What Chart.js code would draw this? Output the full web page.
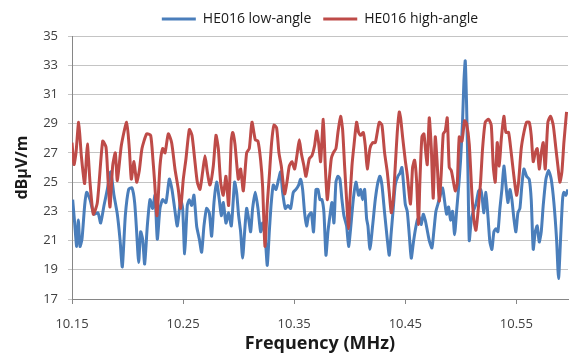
<!DOCTYPE html>
<html>
<head>
<meta charset="utf-8">
<title>HE016 field strength</title>
<script src="https://cdn.jsdelivr.net/npm/chart.js@4.4.1/dist/chart.umd.min.js"></script>
<style>
    html, body { margin: 0; padding: 0; background: #ffffff; }
    #grafica { display: block; }
</style>
</head>
<body>
<canvas id="grafica" width="573" height="358"></canvas>
<script>
const xTicks = [10.15, 10.25, 10.35, 10.45, 10.55];

// HE016 low-angle (frequency in MHz, level in dBuV/m)
const lowFreq = [
    10.1506, 10.1524, 10.1542, 10.1557, 10.1572, 10.159, 10.1614, 10.1632, 10.1662, 10.1698,
    10.1734, 10.1758, 10.1788, 10.1818, 10.1848, 10.1878, 10.1908, 10.1932, 10.1953, 10.198,
    10.201, 10.204, 10.2064, 10.2082, 10.21, 10.2118, 10.2136, 10.2154, 10.2178, 10.2202,
    10.2226, 10.2247, 10.2268, 10.2292, 10.2316, 10.2346, 10.2376, 10.24, 10.2424, 10.2448,
    10.2478, 10.2496, 10.2514, 10.2538, 10.2556, 10.2577, 10.2598, 10.2622, 10.2646, 10.2667,
    10.2688, 10.2712, 10.2736, 10.2757, 10.2778, 10.2802, 10.2826, 10.2844, 10.2862, 10.2886,
    10.291, 10.2934, 10.2952, 10.2964, 10.2982, 10.3, 10.3018, 10.3036, 10.3054, 10.3072,
    10.309, 10.3108, 10.3126, 10.315, 10.3174, 10.3198, 10.3216, 10.324, 10.3258, 10.3276,
    10.3294, 10.3312, 10.3336, 10.336, 10.3378, 10.3396, 10.342, 10.3444, 10.3468, 10.3492,
    10.3516, 10.354, 10.3558, 10.3576, 10.3594, 10.3612, 10.363, 10.3654, 10.3674, 10.3696,
    10.3714, 10.3732, 10.375, 10.3768, 10.3786, 10.3804, 10.3822, 10.384, 10.3858, 10.3876,
    10.3894, 10.3912, 10.393, 10.3948, 10.3972, 10.399, 10.4008, 10.4032, 10.4056, 10.408,
    10.4098, 10.4116, 10.4134, 10.4152, 10.4164, 10.4182, 10.4206, 10.423, 10.4254, 10.4272,
    10.429, 10.4314, 10.4338, 10.4356, 10.4374, 10.4392, 10.441, 10.4434, 10.4452, 10.447,
    10.4482, 10.45, 10.4518, 10.4536, 10.4554, 10.4572, 10.459, 10.4608, 10.4626, 10.4644,
    10.4662, 10.468, 10.4698, 10.4716, 10.474, 10.4758, 10.4776, 10.4794, 10.4812, 10.4836,
    10.4854, 10.4872, 10.489, 10.4908, 10.4926, 10.4944, 10.4962, 10.498, 10.4998, 10.5016,
    10.5028, 10.504, 10.5052, 10.5064, 10.5076, 10.5094, 10.5112, 10.5136, 10.516, 10.5178,
    10.519, 10.5208, 10.5226, 10.5244, 10.5262, 10.528, 10.5298, 10.5316, 10.5334, 10.5352,
    10.537, 10.5388, 10.5406, 10.5424, 10.5442, 10.546, 10.5478, 10.5496, 10.5514, 10.5532,
    10.555, 10.5568, 10.5592, 10.5616, 10.5634, 10.5652, 10.567, 10.5688, 10.5706, 10.5724,
    10.5742, 10.5766, 10.579, 10.5814, 10.5838, 10.5862, 10.588, 10.5898, 10.5916, 10.5928,
    10.5946, 10.5964
];
const lowDb = [
    23.8, 22.2, 20.6, 22.4, 20.6, 21.1, 23.4, 24.3, 23.8, 22.8,
    22.9, 22.2, 23.4, 24.5, 25.7, 24.1, 22.8, 21.1, 19.2, 22.7,
    24.5, 24.6, 23.6, 21.6, 19.5, 21.6, 21.1, 19.4, 22.0, 23.8,
    23.2, 24.1, 21.1, 23.2, 23.8, 23.6, 25.2, 24.5, 23.2, 22.0,
    23.8, 23.2, 20.1, 23.4, 23.8, 23.4, 24.1, 22.0, 21.1, 20.2,
    22.0, 23.2, 22.9, 21.3, 23.6, 25.0, 23.8, 22.7, 23.6, 22.2,
    22.9, 22.0, 23.8, 25.0, 24.3, 22.7, 21.6, 19.8, 21.6, 23.2,
    22.5, 21.6, 23.2, 24.3, 23.2, 21.6, 22.2, 21.1, 19.3, 21.6,
    23.6, 24.8, 24.5, 25.2, 25.7, 24.3, 23.2, 23.4, 23.2, 24.3,
    24.5, 24.8, 25.2, 24.5, 22.9, 22.0, 22.7, 22.9, 21.6, 24.5,
    24.5, 23.8, 23.8, 22.9, 20.0, 21.6, 22.7, 23.6, 22.2, 25.0,
    25.4, 25.2, 23.8, 22.7, 22.0, 20.6, 21.8, 23.8, 25.0, 24.1,
    24.5, 23.8, 24.5, 22.5, 22.0, 20.4, 22.0, 23.8, 25.0, 25.4,
    24.8, 22.9, 21.1, 20.0, 21.6, 23.2, 24.8, 25.4, 25.6, 26.0,
    25.1, 23.5, 23.0, 21.4, 19.8, 20.8, 21.7, 22.4, 22.6, 22.1,
    22.8, 22.4, 21.7, 21.0, 20.5, 21.7, 23.0, 23.5, 24.0, 24.6,
    23.7, 22.8, 23.3, 22.4, 23.0, 21.4, 23.0, 24.6, 26.5, 29.2,
    31.9, 33.3, 30.3, 25.8, 21.0, 22.4, 23.0, 23.5, 24.4, 24.5,
    24.1, 22.9, 24.3, 22.7, 20.9, 20.4, 21.6, 21.8, 21.6, 23.2,
    24.5, 26.1, 24.8, 23.6, 24.5, 23.8, 22.5, 21.6, 22.9, 23.2,
    24.8, 25.9, 25.4, 25.2, 23.8, 20.4, 21.6, 22.0, 20.9, 21.6,
    23.4, 25.2, 25.8, 25.2, 23.6, 21.1, 18.4, 21.1, 23.8, 24.3,
    24.1, 24.5
];

// HE016 high-angle
const highFreq = [
    10.15, 10.1518, 10.1536, 10.156, 10.1584, 10.1614, 10.1638, 10.1662, 10.1692, 10.1728,
    10.1776, 10.1806, 10.1824, 10.1842, 10.1866, 10.189, 10.1908, 10.1944, 10.1992, 10.2016,
    10.2034, 10.2058, 10.2082, 10.2106, 10.213, 10.2172, 10.2208, 10.2229, 10.2243, 10.2265,
    10.2292, 10.2316, 10.2337, 10.2367, 10.2397, 10.2427, 10.2457, 10.2478, 10.2502, 10.2526,
    10.2556, 10.258, 10.2604, 10.2628, 10.2652, 10.2676, 10.2697, 10.2718, 10.2742, 10.2772,
    10.2796, 10.2817, 10.2838, 10.2862, 10.2886, 10.291, 10.2934, 10.2947, 10.2967, 10.2997,
    10.3018, 10.3042, 10.3072, 10.3096, 10.312, 10.315, 10.3174, 10.3198, 10.3216, 10.3237,
    10.3258, 10.3276, 10.3297, 10.3318, 10.3342, 10.3363, 10.3384, 10.3414, 10.3435, 10.3456,
    10.348, 10.3504, 10.3528, 10.3546, 10.3564, 10.3588, 10.3606, 10.3636, 10.366, 10.3684,
    10.3702, 10.372, 10.3738, 10.3762, 10.378, 10.3798, 10.3816, 10.3834, 10.3852, 10.3876,
    10.3894, 10.3918, 10.3936, 10.3954, 10.3972, 10.3989, 10.4002, 10.402, 10.4038, 10.4062,
    10.408, 10.4098, 10.4122, 10.414, 10.4158, 10.4182, 10.4206, 10.423, 10.4248, 10.4266,
    10.429, 10.4314, 10.4338, 10.4356, 10.4374, 10.4392, 10.441, 10.4428, 10.4446, 10.4458,
    10.4476, 10.45, 10.4518, 10.4547, 10.4566, 10.4584, 10.4602, 10.4619, 10.4632, 10.465,
    10.4668, 10.4686, 10.4698, 10.4716, 10.4734, 10.4752, 10.477, 10.4788, 10.4806, 10.4824,
    10.4842, 10.486, 10.4878, 10.4896, 10.4914, 10.4932, 10.495, 10.4968, 10.4986, 10.501,
    10.5034, 10.5052, 10.5076, 10.51, 10.5118, 10.5136, 10.5154, 10.5178, 10.5196, 10.522,
    10.525, 10.5274, 10.5292, 10.531, 10.5328, 10.5346, 10.5364, 10.5388, 10.5406, 10.543,
    10.5454, 10.5478, 10.5502, 10.552, 10.5544, 10.5568, 10.5592, 10.5616, 10.5634, 10.5652,
    10.567, 10.5688, 10.5706, 10.5724, 10.5742, 10.576, 10.5784, 10.5808, 10.5832, 10.5856,
    10.5874, 10.5892, 10.591, 10.5928, 10.5952
];
const highDb = [
    27.7, 26.2, 27.0, 29.1, 26.8, 24.9, 27.6, 25.0, 22.8, 23.6,
    27.8, 27.4, 25.2, 23.3, 26.1, 27.0, 25.1, 27.5, 29.1, 27.3,
    25.2, 26.4, 25.0, 25.8, 27.3, 28.3, 28.2, 26.5, 25.1, 22.7,
    26.1, 27.3, 27.0, 28.3, 27.7, 25.9, 24.5, 23.2, 25.2, 26.6,
    28.6, 28.2, 26.6, 25.0, 24.5, 25.7, 26.8, 25.7, 24.8, 26.1,
    28.2, 27.3, 25.0, 24.1, 25.4, 23.4, 27.9, 28.4, 27.6, 25.2,
    25.9, 24.4, 27.0, 27.3, 29.1, 27.9, 27.8, 26.5, 24.7, 20.6,
    23.5, 25.4, 27.7, 28.9, 28.7, 27.0, 26.1, 24.2, 25.0, 26.1,
    26.4, 25.9, 27.0, 27.9, 27.0, 26.1, 25.4, 26.6, 26.8, 27.5,
    28.5, 27.7, 26.4, 29.3, 26.1, 23.8, 25.2, 26.6, 27.0, 27.3,
    28.4, 29.5, 28.6, 26.1, 23.8, 21.8, 23.8, 26.1, 27.5, 29.1,
    28.4, 28.2, 28.4, 27.5, 25.9, 27.3, 27.7, 27.7, 28.4, 29.1,
    28.9, 27.0, 25.7, 24.3, 22.9, 23.8, 26.1, 28.4, 29.8, 29.4,
    28.1, 26.5, 25.5, 23.5, 26.0, 26.5, 25.1, 22.1, 25.1, 28.1,
    28.3, 26.9, 26.2, 29.4, 27.4, 23.9, 28.1, 26.2, 23.7, 25.6,
    28.3, 28.5, 29.4, 26.0, 25.8, 25.1, 24.4, 24.9, 28.1, 27.8,
    29.2, 29.0, 27.6, 24.2, 22.4, 21.7, 22.9, 25.0, 27.3, 29.1,
    29.3, 28.9, 26.1, 25.0, 27.7, 26.1, 27.9, 29.5, 28.4, 28.4,
    27.0, 25.4, 24.1, 25.0, 27.3, 28.4, 29.1, 29.1, 28.2, 26.4,
    27.0, 27.3, 25.9, 27.0, 27.7, 25.9, 29.1, 29.5, 28.9, 27.3,
    26.1, 25.0, 25.7, 27.7, 29.8
];

let chart;

function juntarPuntos(frecuencias, niveles) {
    return frecuencias.map((f, i) => ({ x: f, y: niveles[i] }));
}

function crearGrafica() {
    const ctx = document.getElementById('grafica').getContext('2d');

    chart = new Chart(ctx, {
        type: 'line',
        data: {
            datasets: [{
                label: 'HE016 low-angle',
                data: juntarPuntos(lowFreq, lowDb),
                borderColor: '#4a7ebb',
                backgroundColor: '#4a7ebb',
                borderWidth: 3,
                pointRadius: 0,
                tension: 0.2,
                borderJoinStyle: 'round',
                order: 1
            }, {
                label: 'HE016 high-angle',
                data: juntarPuntos(highFreq, highDb),
                borderColor: '#be4b48',
                backgroundColor: '#be4b48',
                borderWidth: 3,
                pointRadius: 0,
                tension: 0.2,
                borderJoinStyle: 'round',
                order: 0
            }]
        },
        options: {
            responsive: false,
            animation: false,
            layout: {
                padding: { left: 0, right: 5, top: 0, bottom: 0 }
            },
            plugins: {
                legend: {
                    position: 'top',
                    fullSize: false,
                    labels: {
                        usePointStyle: true,
                        pointStyle: 'line',
                        pointStyleWidth: 34,
                        padding: 12,
                        color: '#1a1a1a',
                        font: { family: 'Open Sans', size: 14 },
                        // keep the legend in dataset order (red is drawn on top)
                        sort: (a, b) => a.datasetIndex - b.datasetIndex
                    }
                },
                tooltip: { enabled: false }
            },
            scales: {
                x: {
                    type: 'linear',
                    min: 10.15,
                    max: 10.5965,
                    afterBuildTicks: function(scale) {
                        scale.ticks = xTicks.map(v => ({ value: v }));
                    },
                    afterFit: function(scale) {
                        scale.height = 59;
                    },
                    ticks: {
                        padding: 12,
                        color: '#404040',
                        font: { family: 'Open Sans', size: 13 },
                        callback: v => v.toFixed(2)
                    },
                    grid: {
                        drawOnChartArea: false,
                        drawTicks: true,
                        tickLength: 5,
                        color: '#868686'
                    },
                    border: { color: '#868686' },
                    title: {
                        display: true,
                        text: 'Frequency (MHz)',
                        color: '#1a1a1a',
                        padding: { top: 0, bottom: 3 },
                        font: { family: 'Open Sans', size: 18, weight: 'bold' }
                    }
                },
                y: {
                    min: 17,
                    max: 35,
                    afterFit: function(scale) {
                        scale.width = 72;
                    },
                    ticks: {
                        stepSize: 2,
                        padding: 10,
                        color: '#404040',
                        font: { family: 'Open Sans', size: 13 }
                    },
                    grid: {
                        color: '#c4c4c4',
                        tickLength: 4
                    },
                    border: { color: '#868686' },
                    title: {
                        display: true,
                        text: 'dBµV/m',
                        color: '#1a1a1a',
                        padding: { top: 13, bottom: 0 },
                        font: { family: 'Open Sans', size: 16, weight: 'bold' }
                    }
                }
            }
        }
    });
}

window.addEventListener('load', crearGrafica);
</script>
</body>
</html>
